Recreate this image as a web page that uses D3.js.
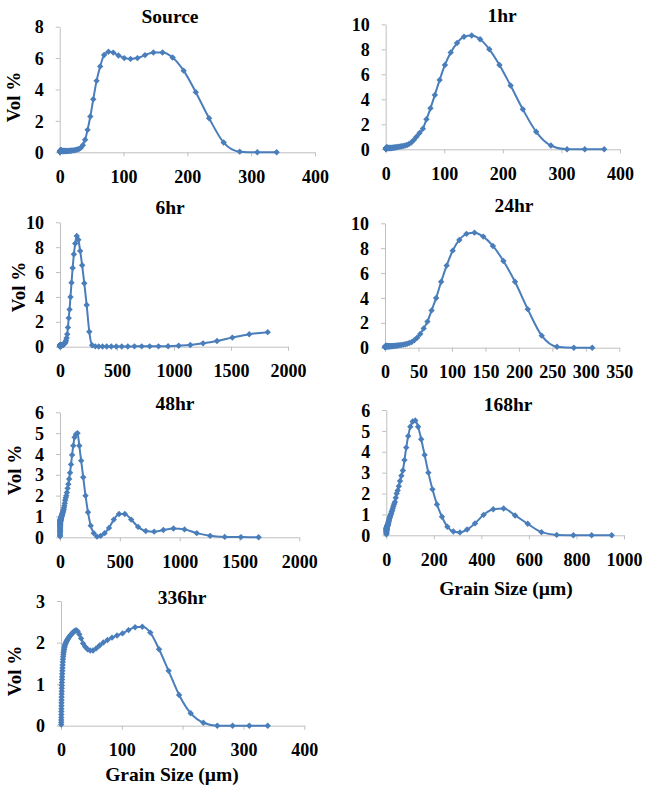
<!DOCTYPE html>
<html>
<head>
<meta charset="utf-8">
<script src="https://cdn.jsdelivr.net/npm/d3@7"></script>
<style>
    body { margin: 0; background: #fff; }
</style>
</head>
<body>
<svg id="chart" width="649" height="786"></svg>
<script>
// grain size bins (µm), shared by every sample
const grainSize = [
    0.375, 0.412, 0.452, 0.496, 0.545, 0.598, 0.657, 0.721, 0.791, 0.869,
    0.954, 1.047, 1.149, 1.261, 1.385, 1.520, 1.669, 1.832, 2.011, 2.208,
    2.423, 2.660, 2.920, 3.206, 3.519, 3.863, 4.240, 4.655, 5.110, 5.610,
    6.158, 6.760, 7.421, 8.147, 8.943, 9.817, 10.78, 11.83, 12.99, 14.26,
    15.65, 17.18, 18.86, 20.71, 22.73, 24.95, 27.39, 30.07, 33.01, 36.24,
    39.78, 43.67, 47.94, 52.62, 57.77, 63.41, 69.61, 76.42, 83.89, 92.09,
    101.1, 111.0, 121.8, 133.7, 146.8, 161.2, 176.9, 194.2, 213.2, 234.1,
    256.9, 282.1, 309.6, 339.9, 373.1, 409.6, 449.7, 493.6, 541.9, 594.9,
    653.0, 716.9, 786.9, 863.9, 948.3, 1041, 1143, 1255, 1377, 1512,
    1660, 1822, 2000
];

// Vol % per bin for each sample
const volSource = [
    0.02, 0.03, 0.04, 0.05, 0.06, 0.07, 0.08, 0.09, 0.10, 0.10,
    0.11, 0.11, 0.12, 0.12, 0.12, 0.12, 0.12, 0.12, 0.11, 0.11,
    0.10, 0.10, 0.09, 0.09, 0.08, 0.08, 0.08, 0.08, 0.08, 0.08,
    0.08, 0.08, 0.08, 0.08, 0.08, 0.08, 0.08, 0.08, 0.09, 0.09,
    0.10, 0.10, 0.11, 0.12, 0.13, 0.15, 0.18, 0.21, 0.28, 0.45,
    0.80, 1.43, 2.28, 3.38, 4.55, 5.47, 6.20, 6.40, 6.35, 6.17,
    6.00, 5.95, 6.00, 6.19, 6.36, 6.36, 6.04, 5.20, 3.83, 2.17,
    0.62, 0.04, 0.00, 0.00
];
const vol1hr = [
    0.03, 0.04, 0.05, 0.06, 0.07, 0.08, 0.09, 0.10, 0.10, 0.11,
    0.11, 0.12, 0.12, 0.12, 0.12, 0.12, 0.12, 0.12, 0.12, 0.12,
    0.12, 0.11, 0.11, 0.11, 0.10, 0.10, 0.10, 0.10, 0.10, 0.10,
    0.10, 0.10, 0.10, 0.10, 0.11, 0.11, 0.12, 0.12, 0.13, 0.14,
    0.15, 0.16, 0.17, 0.18, 0.20, 0.22, 0.24, 0.27, 0.30, 0.35,
    0.42, 0.55, 0.75, 1.00, 1.30, 1.65, 2.40, 3.28, 4.35, 5.55,
    6.75, 7.75, 8.50, 9.00, 9.10, 8.80, 8.00, 6.75, 5.10, 3.20,
    1.40, 0.30, 0.00, 0.00, 0.00
];
const vol6hr = [
    0.02, 0.03, 0.04, 0.05, 0.05, 0.06, 0.07, 0.08, 0.09, 0.10,
    0.10, 0.11, 0.11, 0.12, 0.12, 0.12, 0.12, 0.12, 0.12, 0.12,
    0.12, 0.12, 0.11, 0.11, 0.11, 0.11, 0.10, 0.10, 0.10, 0.10,
    0.10, 0.10, 0.10, 0.10, 0.10, 0.11, 0.11, 0.12, 0.12, 0.12,
    0.12, 0.12, 0.13, 0.13, 0.14, 0.15, 0.16, 0.18, 0.20, 0.22,
    0.25, 0.30, 0.38, 0.50, 0.70, 1.00, 1.55, 2.30, 3.00, 4.00,
    5.15, 6.33, 7.43, 8.30, 8.90, 8.60, 7.70, 6.55, 5.10, 3.35,
    1.20, 0.12, 0.03, 0.02, 0.02, 0.02, 0.02, 0.02, 0.02, 0.02,
    0.03, 0.03, 0.03, 0.03, 0.04, 0.08, 0.14, 0.27, 0.46, 0.73,
    1.00, 1.17
];
const vol24hr = [
    0.03, 0.04, 0.05, 0.06, 0.07, 0.08, 0.09, 0.10, 0.11, 0.12,
    0.12, 0.13, 0.13, 0.14, 0.14, 0.14, 0.14, 0.14, 0.14, 0.14,
    0.14, 0.13, 0.13, 0.13, 0.12, 0.12, 0.12, 0.12, 0.12, 0.12,
    0.12, 0.12, 0.12, 0.12, 0.12, 0.13, 0.13, 0.14, 0.14, 0.15,
    0.16, 0.17, 0.18, 0.20, 0.21, 0.23, 0.25, 0.28, 0.32, 0.38,
    0.45, 0.60, 0.80, 1.10, 1.55, 2.10, 3.00, 4.00, 5.30, 6.60,
    7.80, 8.66, 9.15, 9.25, 8.93, 8.18, 6.97, 5.30, 3.10, 0.97,
    0.08, 0.00, 0.00
];
const vol48hr = [
    0.05, 0.10, 0.16, 0.22, 0.28, 0.33, 0.38, 0.43, 0.47, 0.51,
    0.55, 0.58, 0.61, 0.64, 0.67, 0.69, 0.71, 0.73, 0.75, 0.77,
    0.78, 0.79, 0.80, 0.81, 0.82, 0.83, 0.84, 0.85, 0.86, 0.87,
    0.88, 0.89, 0.90, 0.91, 0.93, 0.95, 0.97, 0.99, 1.01, 1.03,
    1.06, 1.09, 1.12, 1.15, 1.19, 1.23, 1.28, 1.34, 1.42, 1.52,
    1.64, 1.78, 1.90, 2.00, 2.15, 2.35, 2.55, 2.80, 3.10, 3.50,
    3.95, 4.40, 4.80, 4.95, 5.00, 4.40, 3.68, 2.88, 2.00, 1.20,
    0.56, 0.20, 0.03, 0.07, 0.20, 0.45, 0.85, 1.12, 1.12, 0.85,
    0.50, 0.30, 0.27, 0.35, 0.42, 0.38, 0.20, 0.07, 0.02, 0.01,
    0.00
];
const vol168hr = [
    0.05, 0.09, 0.13, 0.16, 0.19, 0.21, 0.23, 0.25, 0.27, 0.28,
    0.29, 0.30, 0.31, 0.32, 0.33, 0.34, 0.35, 0.36, 0.37, 0.38,
    0.39, 0.40, 0.41, 0.42, 0.43, 0.44, 0.45, 0.46, 0.47, 0.49,
    0.50, 0.52, 0.55, 0.58, 0.62, 0.66, 0.70, 0.75, 0.80, 0.85,
    0.90, 0.95, 1.00, 1.05, 1.13, 1.20, 1.30, 1.40, 1.50, 1.60,
    1.80, 2.00, 2.15, 2.35, 2.60, 2.85, 3.10, 3.60, 4.20, 4.75,
    5.20, 5.45, 5.50, 5.20, 4.60, 3.85, 3.00, 2.20, 1.48, 0.89,
    0.41, 0.18, 0.14, 0.28, 0.57, 0.98, 1.25, 1.28, 0.95, 0.55,
    0.15, 0.02, 0.00, 0.00, 0.00
];
const vol336hr = [
    0.03, 0.08, 0.14, 0.20, 0.27, 0.34, 0.41, 0.48, 0.55, 0.62,
    0.69, 0.76, 0.83, 0.90, 0.97, 1.04, 1.11, 1.18, 1.25, 1.32,
    1.39, 1.46, 1.53, 1.60, 1.66, 1.71, 1.76, 1.80, 1.84, 1.88,
    1.92, 1.95, 1.98, 2.00, 2.03, 2.05, 2.08, 2.10, 2.13, 2.15,
    2.18, 2.20, 2.23, 2.26, 2.28, 2.30, 2.27, 2.20, 2.10, 1.98,
    1.90, 1.84, 1.81, 1.81, 1.86, 1.93, 2.00, 2.06, 2.12, 2.17,
    2.22, 2.30, 2.37, 2.38, 2.24, 1.84, 1.32, 0.74, 0.30, 0.07,
    0.00, 0.00, 0.00, 0.00
];

// tick labels
const xTicks400 = [0, 100, 200, 300, 400];
const xTicks350 = [0, 50, 100, 150, 200, 250, 300, 350];
const xTicks1000 = [0, 200, 400, 600, 800, 1000];
const xTicks2000 = [0, 500, 1000, 1500, 2000];
const yTicks3 = [0, 1, 2, 3];
const yTicks6 = [0, 1, 2, 3, 4, 5, 6];
const yTicks8 = [0, 2, 4, 6, 8];
const yTicks10 = [0, 2, 4, 6, 8, 10];

const titles = ["Source", "1hr", "6hr", "24hr", "48hr", "168hr", "336hr"];
const yLabel = "Vol %";
const xLabel = "Grain Size (\u00b5m)";

// panel layout (pixel frame of each plot area)
const panels = [
    { vol: volSource, xt: xTicks400, yt: yTicks8, l: 59.7, r: 315, t: 26.7, b: 152.3, tx: 170, ty: 16.5, vl: [14, 97] },
    { vol: vol1hr, xt: xTicks400, yt: yTicks10, l: 385.7, r: 620, t: 24.3, b: 149.3, tx: 502, ty: 15 },
    { vol: vol6hr, xt: xTicks2000, yt: yTicks10, l: 60, r: 288, t: 222.3, b: 346.7, tx: 170, ty: 207, vl: [19, 287] },
    { vol: vol24hr, xt: xTicks350, yt: yTicks10, l: 385, r: 619.3, t: 223.3, b: 347.7, tx: 514, ty: 205 },
    { vol: vol48hr, xt: xTicks2000, yt: yTicks6, l: 60, r: 299.3, t: 412.3, b: 537.3, tx: 175, ty: 403, vl: [15, 470] },
    { vol: vol168hr, xt: xTicks1000, yt: yTicks6, l: 386.3, r: 624, t: 410, b: 535.3, tx: 508, ty: 404, gl: [506, 589] },
    { vol: vol336hr, xt: xTicks400, yt: yTicks3, l: 61, r: 304.3, t: 601, b: 725.7, tx: 182, ty: 597, vl: [15, 671], gl: [172, 775] }
];

const fontFamily = "Liberation Serif";
const lineColor = "#4a7ebb";
const axisColor = "#bfbfbf";

const svg = d3.select("#chart");

function styleText(sel, size) {
    return sel.style("font-family", fontFamily)
        .style("font-weight", "bold")
        .style("font-size", size + "px")
        .attr("fill", "#000");
}

panels.forEach(function (p, i) {
    let x = d3.scaleLinear().domain([0, d3.max(p.xt)]).range([p.l, p.r]);
    let y = d3.scaleLinear().domain([0, d3.max(p.yt)]).range([p.b, p.t]);
    let g = svg.append("g");

    // x axis
    let gx = g.append("g")
        .attr("transform", "translate(0," + p.b + ")")
        .call(d3.axisBottom(x).tickValues(p.xt).tickFormat(d3.format("d")).tickSize(4).tickSizeOuter(0));
    gx.selectAll("text")
        .attr("y", 24.5)
        .attr("dy", "0.34em");

    // y axis
    let gy = g.append("g")
        .attr("transform", "translate(" + p.l + ",0)")
        .call(d3.axisLeft(y).tickValues(p.yt).tickFormat(d3.format("d")).tickSize(4).tickSizeOuter(0));
    gy.selectAll("text")
        .attr("x", -16)
        .attr("dy", "0.34em");

    [gx, gy].forEach(function (a) {
        a.attr("font-family", null).attr("font-size", null);
        styleText(a.selectAll("text"), 18);
        a.selectAll(".domain, .tick line").attr("stroke", axisColor);
    });

    // title
    styleText(g.append("text"), 19.5)
        .attr("x", p.tx)
        .attr("y", p.ty)
        .attr("text-anchor", "middle")
        .attr("dy", "0.34em")
        .text(titles[i]);

    if (p.vl) {
        styleText(g.append("text"), 19)
            .attr("transform", "translate(" + p.vl[0] + "," + p.vl[1] + ") rotate(-90)")
            .attr("text-anchor", "middle")
            .attr("dy", "0.34em")
            .text(yLabel);
    }

    if (p.gl) {
        styleText(g.append("text"), 19.5)
            .attr("x", p.gl[0])
            .attr("y", p.gl[1])
            .attr("text-anchor", "middle")
            .attr("dy", "0.3em")
            .text(xLabel);
    }

    let pts = p.vol.map(function (v, k) { return [grainSize[k], v]; });

    let line = d3.line()
        .x(function (d) { return x(d[0]); })
        .y(function (d) { return y(d[1]); })
        .curve(d3.curveMonotoneX);

    g.append("path")
        .datum(pts)
        .attr("d", line)
        .attr("fill", "none")
        .attr("stroke", lineColor)
        .attr("stroke-width", 2);

    // diamond markers
    g.selectAll("path.mark")
        .data(pts)
        .enter().append("path")
        .attr("class", "mark")
        .attr("d", "M0,-3.2L3.2,0L0,3.2L-3.2,0Z")
        .attr("transform", function (d) { return "translate(" + x(d[0]) + "," + y(d[1]) + ")"; })
        .attr("fill", lineColor);
});
</script>
</body>
</html>
